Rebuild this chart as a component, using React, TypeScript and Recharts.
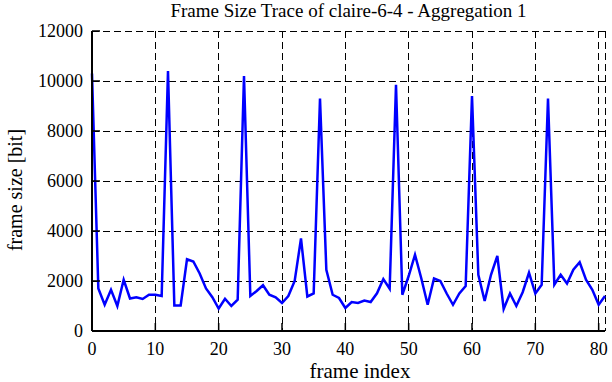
import React from 'react'
import { CartesianGrid, Line, LineChart, XAxis, YAxis } from 'recharts';

// frame size trace, one value per frame (bits)
const frameSizeBits = [
  10300, 1700, 1050, 1650, 1000, 2050, 1300, 1350, 1280, 1450, 1450, 1400,
  10400, 1020, 1020, 2870, 2780, 2300, 1700, 1350, 900, 1290, 1000, 1250,
  10200, 1400, 1600, 1830, 1450, 1350, 1120, 1400, 2000, 3700, 1380, 1500,
  9300, 2450, 1450, 1320, 920, 1160, 1120, 1220, 1160, 1510, 2080, 1690,
  9850, 1450, 2200, 3050, 2100, 1050, 2100, 2000, 1500, 1050, 1500, 1800,
  9400, 2250, 1200, 2250, 3000, 880, 1500, 1000, 1550, 2330, 1500, 1850,
  9300, 1850, 2250, 1900, 2450, 2750, 2050, 1650, 1050, 1400,
];
const frameIndex = frameSizeBits.map((_, i) => i);
const xTicks = [0, 10, 20, 30, 40, 50, 60, 70, 80];
const yTicks = [0, 2000, 4000, 6000, 8000, 10000, 12000];

const font = '"Liberation Serif", "Times New Roman", serif';
const noLabel = () => <g />;

const XTick = ({ x, y, payload }: any) => (
  <text x={x} y={y} dy="0.71em" textAnchor="middle" fill="#000" fontSize={18} fontFamily={font}>
    {payload.value}
  </text>
);

const YTick = ({ x, y, payload }: any) => (
  <text x={x} y={y} dy="0.35em" textAnchor="end" fill="#000" fontSize={18} fontFamily={font}>
    {payload.value}
  </text>
);

const App = () => {
  const data = frameIndex.map((i, k) => ({ frame: i, size: frameSizeBits[k] }));
  return (
    <div style={{ position: 'absolute', left: 0, top: 0, width: 612, height: 382, background: '#fff', fontFamily: font }}>
      <div style={{ position: 'absolute', left: 0, width: 697, top: 0, textAlign: 'center', fontSize: 19, lineHeight: '22px' }}>
        Frame Size Trace of claire-6-4 - Aggregation 1
      </div>
      <div style={{ position: 'absolute', left: 260, width: 200, top: 360, textAlign: 'center', fontSize: 21, lineHeight: '22px' }}>
        frame index
      </div>
      <div style={{ position: 'absolute', left: 15, top: 190, width: 0, height: 0 }}>
        <div style={{ position: 'absolute', left: -100, top: -12, width: 200, textAlign: 'center', fontSize: 20, lineHeight: '24px', transform: 'rotate(-90deg)' }}>
          frame size [bit]
        </div>
      </div>
      <LineChart width={612} height={382} data={data} margin={{ top: 31, right: 7, bottom: 0, left: 0 }}
        style={{ fontFamily: font }}>
        <CartesianGrid xAxisId="b" yAxisId="l" stroke="#000" strokeWidth={1} strokeDasharray="7 4"
          shapeRendering="crispEdges" />
        <XAxis xAxisId="b" type="number" dataKey="frame" domain={[0, 81]} ticks={xTicks} height={51}
          axisLine={{ stroke: '#000', strokeWidth: 2 }} tickLine={{ stroke: '#000', strokeWidth: 1.5 }}
          tickSize={-8} tickMargin={19} tick={XTick} />
        <XAxis xAxisId="t" orientation="top" type="number" dataKey="frame" domain={[0, 81]} ticks={xTicks} height={0}
          axisLine={{ stroke: '#000', strokeWidth: 2 }} tickLine={{ stroke: '#000', strokeWidth: 1.5 }}
          tickSize={-8} tick={noLabel} />
        <YAxis yAxisId="l" domain={[0, 12000]} ticks={yTicks} width={92}
          axisLine={{ stroke: '#000', strokeWidth: 2 }} tickLine={{ stroke: '#000', strokeWidth: 1.5 }}
          tickSize={-8} tickMargin={17} tick={YTick} />
        <YAxis yAxisId="r" orientation="right" domain={[0, 12000]} ticks={yTicks} width={0}
          axisLine={{ stroke: '#000', strokeWidth: 2 }} tickLine={{ stroke: '#000', strokeWidth: 1.5 }}
          tickSize={-8} tick={noLabel} />
        <Line xAxisId="b" yAxisId="l" type="linear" dataKey="size" stroke="#0000ff" strokeWidth={2.5}
          dot={false} isAnimationActive={false} />
      </LineChart>
    </div>
  )
}

export default App
